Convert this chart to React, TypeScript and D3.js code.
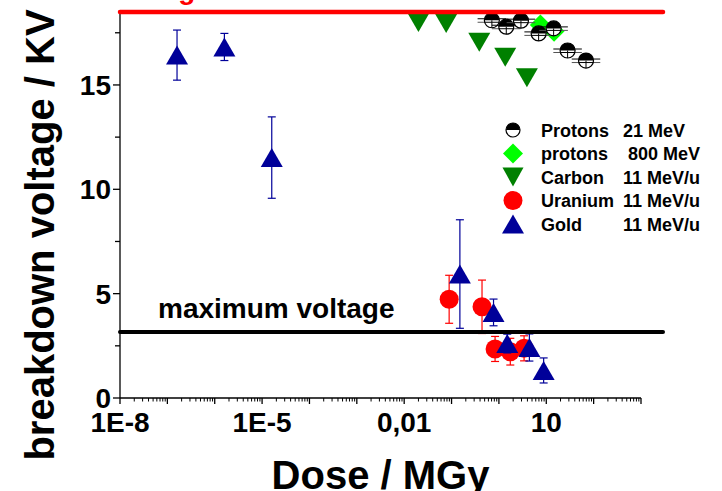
import React from "react";
import * as d3 from "d3";

// ---------- data ----------
const protons21Dose = [0.71, 1.43, 2.92, 6.9, 14.3, 28.2, 69];
const protons21V = [18.1, 17.79, 18.08, 17.47, 17.71, 16.65, 16.17];

const protons800Dose = [7.5, 14.6];
const protons800V = [17.87, 17.57];

const carbonDose = [0.02, 0.077, 0.385, 1.36, 3.9];
const carbonV = [17.99, 17.95, 17.05, 16.33, 15.34];

const uraniumDose = [0.089, 0.44, 0.83, 1.74, 3.4];
const uraniumV = [4.73, 4.37, 2.35, 2.22, 2.38];
const uraniumErr = [1.15, 1.28, 0.6, 0.64, 0.6];

const goldDose = [1.6e-7, 1.6e-6, 1.6e-5, 0.15, 0.77, 1.5, 4.4, 8.8];
const goldV = [16.43, 16.82, 11.52, 5.94, 4.1, 2.61, 2.42, 1.32];
const goldErr = [1.2, 0.65, 1.95, 2.6, 0.64, 0.45, 0.65, 0.6];

const protonDoseErrFactor = 2; // horizontal error (x/÷)

const maxVoltage = 3.16;
const limitVoltage = 18.5;

const xTickLabels = [
  { v: 1e-8, t: "1E-8" },
  { v: 1e-5, t: "1E-5" },
  { v: 0.01, t: "0,01" },
  { v: 10, t: "10" },
];
const yTickLabels = [0, 5, 10, 15];
const yMinorTicks = [2.5, 7.5, 12.5, 17.5];

const legendNames = ["Protons", "protons", "Carbon", "Uranium", "Gold"];
const legendValues = ["21 MeV", "800 MeV", "11 MeV/u", "11 MeV/u", "11 MeV/u"];

// ---------- layout ----------
const W = 722;
const H = 491;
const X0 = 120;
const X1 = 641;
const Y0 = 398;
const font = "'Liberation Sans', Arial, sans-serif";

const NAVY = "#000099";
const GREEN = "#008000";
const LIME = "#00ff00";
const RED = "#ff0000";

const x = d3.scaleLog().domain([1e-8, 1e3]).range([X0, X1]);
const y = d3.scaleLinear().domain([0, 18.5]).range([Y0, Y0 - 18.5 * 20.87]);

const triUp = (cx: number, cy: number, w = 22, h = 19) =>
  `M${cx},${cy - h / 2}L${cx + w / 2},${cy + h / 2}L${cx - w / 2},${cy + h / 2}Z`;
const triDown = (cx: number, cy: number, w = 22, h = 19) =>
  `M${cx - w / 2},${cy - h / 2}L${cx + w / 2},${cy - h / 2}L${cx},${cy + h / 2}Z`;
const diamond = (cx: number, cy: number, r = 10.5) =>
  `M${cx},${cy - r}L${cx + r},${cy}L${cx},${cy + r}L${cx - r},${cy}Z`;

function HalfCircle({ cx, cy, r = 7.5, cross = true }: { cx: number; cy: number; r?: number; cross?: boolean }) {
  return (
    <g>
      <circle cx={cx} cy={cy} r={r} fill="#fff" stroke="#000" strokeWidth={1.2} />
      <path d={`M${cx - r},${cy}A${r},${r} 0 0 1 ${cx + r},${cy}Z`} fill="#000" />
      {cross && (
        <>
          <line x1={cx - r} x2={cx + r} y1={cy + 2} y2={cy + 2} stroke="#000" strokeWidth={1} />
          <line x1={cx} x2={cx} y1={cy} y2={cy + r} stroke="#000" strokeWidth={1} />
        </>
      )}
    </g>
  );
}

function VErr({ cx, v, e, color }: { cx: number; v: number; e: number; color: string }) {
  const yt = y(v + e);
  const yb = y(v - e);
  return (
    <g stroke={color} strokeWidth={1.2}>
      <line x1={cx} x2={cx} y1={yt} y2={yb} />
      <line x1={cx - 4} x2={cx + 4} y1={yt} y2={yt} />
      <line x1={cx - 4} x2={cx + 4} y1={yb} y2={yb} />
    </g>
  );
}

export default function App() {
  // x ticks
  const majors: number[] = d3.range(-8, 4).map((p) => Math.pow(10, p));
  const minors: number[] = [];
  for (let p = -8; p < 3; p++) for (let k = 2; k <= 9; k++) minors.push(k * Math.pow(10, p));

  const legendRows = [130, 153.5, 177, 200.5, 224];
  const LX = 513;

  return (
    <svg width={W} height={H} style={{ position: "absolute", left: 0, top: 0, background: "#fff" }} fontFamily={font}>
      <rect x={0} y={0} width={W} height={H} fill="#fff" />

      {/* axes */}
      <g stroke="#000" strokeWidth={1.3} fill="none">
        <line x1={X0} x2={X0} y1={Y0} y2={y(limitVoltage)} />
        <line x1={X0} x2={X1} y1={Y0} y2={Y0} />
        {majors.map((m, i) => (
          <line key={"M" + i} x1={x(m)} x2={x(m)} y1={Y0} y2={Y0 + 6} />
        ))}
        {minors.map((m, i) => (
          <line key={"m" + i} x1={x(m)} x2={x(m)} y1={Y0} y2={Y0 + 3.5} strokeWidth={1} />
        ))}
        {yTickLabels.map((v) => (
          <line key={"yt" + v} x1={X0 - 7} x2={X0} y1={y(v)} y2={y(v)} />
        ))}
        {yMinorTicks.map((v) => (
          <line key={"ym" + v} x1={X0 - 5} x2={X0} y1={y(v)} y2={y(v)} />
        ))}
      </g>

      {/* tick labels */}
      <g fontWeight="bold" fontSize={28} fill="#000">
        {yTickLabels.map((v) => (
          <text key={"yl" + v} x={111} y={y(v) + 10} textAnchor="end">
            {v}
          </text>
        ))}
        {xTickLabels.map((d) => (
          <text key={"xl" + d.t} x={x(d.v)} y={432} textAnchor="middle">
            {d.t}
          </text>
        ))}
      </g>

      {/* axis titles */}
      <text x={(X0 + X1) / 2} y={489} textAnchor="middle" fontWeight="bold" fontSize={40}>
        Dose / MGy
      </text>
      <text
        transform={`translate(54,235) rotate(-90)`}
        textAnchor="middle"
        fontWeight="bold"
        fontSize={40}
      >
        breakdown voltage / KV
      </text>

      {/* protons 800 MeV */}
      {protons800Dose.map((d, i) => (
        <path key={"d" + i} d={diamond(x(d), y(protons800V[i]))} fill={LIME} />
      ))}

      {/* protons 21 MeV */}
      {protons21Dose.map((d, i) => {
        const cx = x(d);
        const cy = y(protons21V[i]);
        const xl = x(d / protonDoseErrFactor);
        const xr = x(d * protonDoseErrFactor);
        return (
          <g key={"p" + i}>
            <line x1={xl} x2={xr} y1={cy - 1.5} y2={cy - 1.5} stroke="#000" strokeWidth={1} />
            <line x1={xl} x2={xr} y1={cy + 2} y2={cy + 2} stroke="#555" strokeWidth={1} />
            <HalfCircle cx={cx} cy={cy} />
          </g>
        );
      })}

      {/* carbon */}
      {carbonDose.map((d, i) => (
        <path key={"c" + i} d={triDown(x(d), y(carbonV[i]))} fill={GREEN} />
      ))}

      {/* uranium */}
      {uraniumDose.map((d, i) => (
        <g key={"u" + i}>
          <VErr cx={x(d)} v={uraniumV[i]} e={uraniumErr[i]} color={RED} />
          <circle cx={x(d)} cy={y(uraniumV[i])} r={9.5} fill={RED} />
        </g>
      ))}

      {/* gold */}
      {goldDose.map((d, i) => (
        <g key={"g" + i}>
          <VErr cx={x(d)} v={goldV[i]} e={goldErr[i]} color={NAVY} />
          <path d={triUp(x(d), y(goldV[i]))} fill={NAVY} />
        </g>
      ))}

      {/* reference lines */}
      <line x1={X0} x2={663} y1={y(maxVoltage)} y2={y(maxVoltage)} stroke="#000" strokeWidth={4} strokeLinecap="round" />
      <line x1={X0} x2={663} y1={y(limitVoltage)} y2={y(limitVoltage)} stroke={RED} strokeWidth={4.5} strokeLinecap="round" />
      <text x={158} y={318} fontWeight="bold" fontSize={28} fill="#000">
        maximum voltage
      </text>
      <text x={211} y={-1} textAnchor="end" fontWeight="bold" fontSize={28} fill={RED}>
        nominal voltage
      </text>

      {/* legend */}
      <HalfCircle cx={LX} cy={legendRows[0]} r={7} cross={false} />
      <path d={diamond(LX, legendRows[1], 10)} fill={LIME} />
      <path d={triDown(LX, legendRows[2], 21, 19)} fill={GREEN} />
      <circle cx={LX} cy={legendRows[3]} r={9.5} fill={RED} />
      <path d={triUp(LX, legendRows[4], 22, 19)} fill={NAVY} />
      <g fontWeight="bold" fontSize={18} fill="#000">
        {legendNames.map((n, i) => (
          <text key={"ln" + i} x={541} y={legendRows[i] + 6.5}>
            {n}
          </text>
        ))}
        {legendValues.map((v, i) => (
          <text key={"lv" + i} x={i === 1 ? 628 : 623} y={legendRows[i] + 6.5}>
            {v}
          </text>
        ))}
      </g>
    </svg>
  );
}
